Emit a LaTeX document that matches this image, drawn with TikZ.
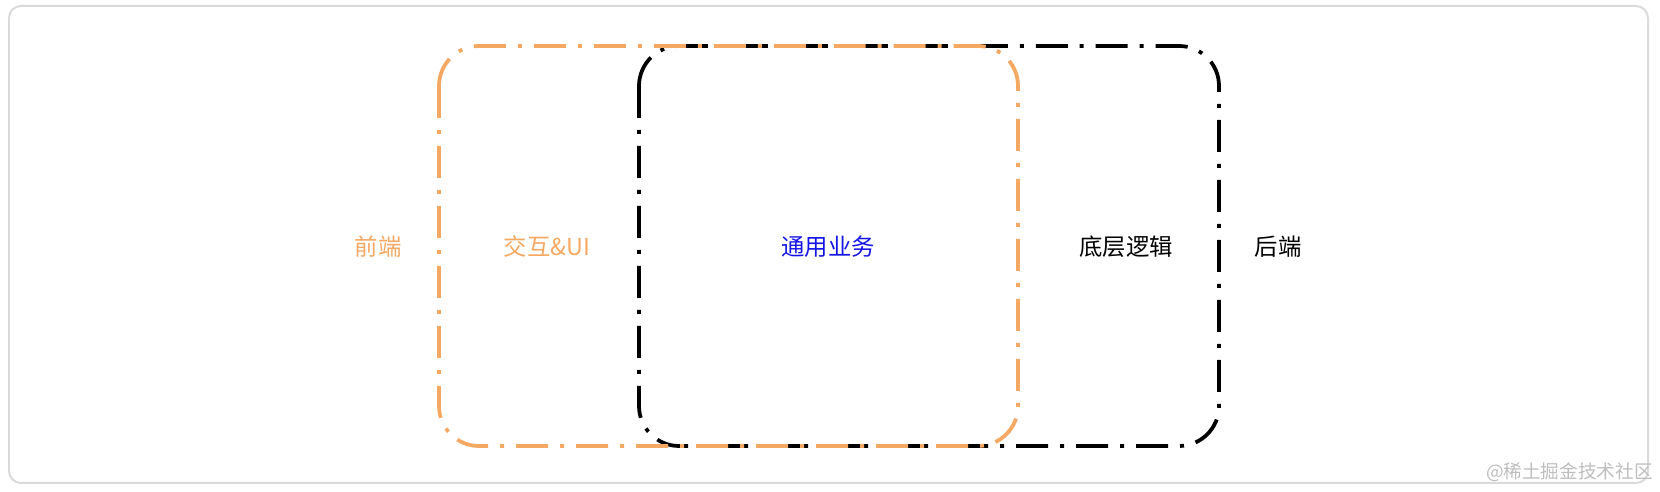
\documentclass[tikz,border=0pt]{standalone}
\usepackage{fontspec}
\newfontfamily\cjk{Noto Sans CJK SC}
\definecolor{frontorange}{HTML}{F5A862}
\definecolor{bizblue}{HTML}{1414E6}
\definecolor{framegray}{HTML}{DADADA}
\definecolor{markgray}{HTML}{BDBDBD}
\tikzset{
  layerbox/.style={line width=0.075cm, rounded corners=0.8cm,
    dash pattern=on 0.64cm off 0.24cm on 0.08cm off 0.24cm},
  areatext/.style={font=\cjk\fontsize{13.3}{16}\selectfont, inner sep=0pt}
}

\begin{document}
\begin{tikzpicture}[x=0.02cm,y=-0.02cm]
\useasboundingbox (0,0) rectangle (1660,492);
\draw[framegray, line width=0.04cm, rounded corners=0.24cm] (9,6) rectangle (1648,483);

% back end layer, then front end layer
\draw[layerbox, black] (639,46) rectangle (1219,446);
\draw[layerbox, frontorange] (439,46) rectangle (1018,446);

\node[areatext, frontorange] (fe) at (378,247) {前端};
\node[areatext, frontorange] (ui) at (547,247) {交互\&UI};
\node[areatext, bizblue] (biz) at (828,247) {通用业务};
\node[areatext, black] (base) at (1126,247) {底层逻辑};
\node[areatext, black] (be) at (1278,247) {后端};

\node[font=\cjk\fontsize{10.6}{13}\selectfont, markgray, inner sep=0pt, anchor=east] (mark) at (1653,472) {@稀土掘金技术社区};
\end{tikzpicture}
\end{document}
